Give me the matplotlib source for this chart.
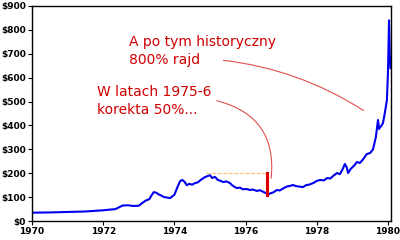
import matplotlib
matplotlib.use("Agg")
import matplotlib.pyplot as plt

# Gold price, USD/oz, 1970-1980
years = [1970.0, 1970.5, 1971.0, 1971.5, 1972.0, 1972.2, 1972.35, 1972.45, 1972.55, 1972.7,
         1972.85, 1973.0, 1973.09, 1973.2, 1973.3, 1973.36, 1973.42, 1973.5, 1973.55, 1973.6,
         1973.7, 1973.8, 1973.88, 1974.0, 1974.08, 1974.16, 1974.22, 1974.28, 1974.35, 1974.42,
         1974.5, 1974.58, 1974.66, 1974.74, 1974.8, 1974.86, 1975.0, 1975.06, 1975.14, 1975.22,
         1975.3, 1975.38, 1975.46, 1975.56, 1975.62, 1975.7, 1975.76, 1975.84, 1975.92, 1976.03,
         1976.12, 1976.2, 1976.32, 1976.4, 1976.5, 1976.57, 1976.63, 1976.7, 1976.78, 1976.88,
         1976.96, 1977.05, 1977.15, 1977.25, 1977.33, 1977.42, 1977.52, 1977.61, 1977.7, 1977.8,
         1977.9, 1978.0, 1978.1, 1978.2, 1978.29, 1978.38, 1978.47, 1978.57, 1978.65, 1978.72,
         1978.79, 1978.84, 1978.88, 1978.95, 1979.05, 1979.13, 1979.21, 1979.3, 1979.4, 1979.5,
         1979.58, 1979.66, 1979.72, 1979.75, 1979.78, 1979.82, 1979.86, 1979.92, 1979.97, 1980.0,
         1980.03, 1980.05, 1980.07]
price = [35, 36, 38, 40, 45, 48, 50, 58, 65, 66,
         63, 64, 75, 86, 92, 108, 121, 118, 112, 109,
         101, 98, 96, 110, 140, 167, 172, 165, 150, 156,
         152, 159, 162, 172, 178, 184, 192, 180, 185, 172,
         168, 163, 166, 159, 150, 142, 138, 140, 133, 134,
         130, 132, 126, 129, 122, 117, 110, 116, 120, 130,
         128, 136, 144, 147, 151, 146, 144, 142, 150, 153,
         159, 168, 172, 170, 180, 178, 190, 201, 196, 215,
         239, 225, 201, 218, 232, 247, 243, 258, 280, 285,
         300, 352, 423, 385, 393, 400, 410, 460, 506, 624,
         840, 700, 640]

yticks = [0, 100, 200, 300, 400, 500, 600, 700, 800, 900]
xticks = [1970, 1972, 1974, 1976, 1978, 1980]

# 1975-76 correction markers
corr_x = 1976.6
corr_top = 200
corr_low = 110
corr_start = 1974.9

fig = plt.figure(figsize=(4, 2.4), dpi=100)
ax = fig.add_axes([0.08, 0.079, 0.8975, 0.896])

ax.plot(years, price, color="#0000ee", lw=1.5)

ax.plot([corr_start, corr_x], [corr_top, corr_top], color="#f7c98a", lw=1, ls=(0, (3, 1)))
ax.plot([corr_x, corr_x], [corr_low, corr_top], color="#e00000", lw=2.2)

red = "#d00000"
ax.text(1972.72, 712, "A po tym historyczny\n800% rajd", color=red, fontsize=10,
        va="center", ha="left", linespacing=1.35)
ax.text(1971.83, 502, "W latach 1975-6\nkorekta 50%...", color=red, fontsize=10,
        va="center", ha="left", linespacing=1.35)

ax.annotate("", xy=(1976.71, 167), xytext=(1975.12, 506),
            arrowprops=dict(arrowstyle="-", color="#e05050", lw=0.8,
                            connectionstyle="arc3,rad=-0.45"))
ax.annotate("", xy=(1979.38, 456), xytext=(1975.3, 674),
            arrowprops=dict(arrowstyle="-", color="#e05050", lw=0.8,
                            connectionstyle="arc3,rad=-0.12"))

ax.set_xlim(1970, 1980.085)
ax.set_ylim(0, 900)
ax.set_yticks(yticks)
ax.set_yticklabels(["$%d" % v for v in yticks])
ax.set_xticks(xticks)
ax.set_xticklabels([str(v) for v in xticks])
ax.tick_params(labelsize=6.5, length=3, width=0.8, pad=1.5)
for lab in ax.get_xticklabels() + ax.get_yticklabels():
    lab.set_fontweight("bold")
for s in ax.spines.values():
    s.set_linewidth(1)

fig.savefig("out.png", dpi=100)
